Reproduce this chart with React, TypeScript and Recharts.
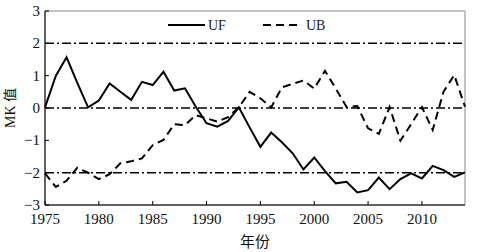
import React from "react";
import {
  LineChart,
  Line,
  XAxis,
  YAxis,
  ReferenceLine,
  ReferenceArea,
} from "recharts";

const years = [
  1975, 1976, 1977, 1978, 1979, 1980, 1981, 1982, 1983, 1984, 1985, 1986, 1987,
  1988, 1989, 1990, 1991, 1992, 1993, 1994, 1995, 1996, 1997, 1998, 1999, 2000,
  2001, 2002, 2003, 2004, 2005, 2006, 2007, 2008, 2009, 2010, 2011, 2012, 2013,
  2014,
];

const uf = [
  0.02, 0.99, 1.57, 0.78, 0.02, 0.23, 0.76, 0.5, 0.25, 0.81, 0.71, 1.12, 0.54,
  0.61, 0.04, -0.47, -0.58, -0.4, 0.02, -0.6, -1.2, -0.76, -1.06, -1.4, -1.9,
  -1.53, -1.95, -2.33, -2.28, -2.61, -2.54, -2.15, -2.51, -2.2, -2.02, -2.18,
  -1.79, -1.92, -2.13, -1.99,
];

const ub = [
  -2.02, -2.44, -2.25, -1.85, -2.0, -2.2, -2.05, -1.71, -1.65, -1.56, -1.15,
  -0.99, -0.5, -0.53, -0.22, -0.32, -0.42, -0.28, 0.02, 0.5, 0.3, 0.02, 0.64,
  0.75, 0.85, 0.6, 1.15, 0.6, 0.03, 0.06, -0.63, -0.8, 0.03, -1.01, -0.5, 0.03,
  -0.68, 0.5, 1.02, 0.04,
];

const xTicks = [1975, 1980, 1985, 1990, 1995, 2000, 2005, 2010];
const yTicks = [-3, -2, -1, 0, 1, 2, 3];
const refLevels = [2, 0, -2];

const data = years.map((y, i) => ({ year: y, UF: uf[i], UB: ub[i] }));

const serif = "Liberation Serif";
const cjk = "Noto Sans CJK SC";

function fmtY(v: number) {
  return v < 0 ? `\u2212${-v}` : `${v}`;
}

function XTick(props: any) {
  const { x, y, payload } = props;
  return (
    <text
      x={x}
      y={y}
      dy={11}
      textAnchor="middle"
      fontFamily={serif}
      fontSize={15}
      fill="#111"
    >
      {payload.value}
    </text>
  );
}

function YTick(props: any) {
  const { x, y, payload } = props;
  return (
    <text
      x={x}
      y={y}
      dy={5}
      textAnchor="end"
      fontFamily={serif}
      fontSize={15}
      fill="#111"
    >
      {fmtY(payload.value)}
    </text>
  );
}

// legend drawn as an overlay so it doesn't push the plot area down
function MkLegend() {
  return (
    <svg
      width={180}
      height={16}
      style={{ position: "absolute", left: 160, top: 17 }}
    >
      <line x1={8} y1={8} x2={45} y2={8} stroke="#000" strokeWidth={2} />
      <text x={48} y={13} fontFamily={serif} fontSize={14} fill="#1a1a2e">
        UF
      </text>
      <line
        x1={103}
        y1={8}
        x2={137}
        y2={8}
        stroke="#000"
        strokeWidth={2}
        strokeDasharray="8 5"
      />
      <text x={146} y={13} fontFamily={serif} fontSize={14} fill="#1a1a2e">
        UB
      </text>
    </svg>
  );
}

export default function App() {
  return (
    <div
      style={{
        position: "absolute",
        left: 0,
        top: 0,
        width: 482,
        height: 252,
        background: "#fff",
      }}
    >
      <LineChart
        width={482}
        height={252}
        data={data}
        margin={{ top: 11, right: 17, bottom: 0, left: 0 }}
      >
        <ReferenceArea
          x1={1975}
          x2={2014}
          y1={-3}
          y2={3}
          fill="none"
          stroke="#888"
          strokeWidth={1}
        />
        {refLevels.map((lv) => (
          <ReferenceLine
            key={lv}
            y={lv}
            stroke="#000"
            strokeWidth={1.5}
            strokeDasharray="9 3 2 3"
          />
        ))}
        <XAxis
          dataKey="year"
          type="number"
          domain={[1975, 2014]}
          ticks={xTicks}
          height={47}
          stroke="#000"
          tickSize={-4}
          tickMargin={12}
          tick={<XTick />}
          label={{
            value: "年份",
            position: "insideBottom",
            offset: 5,
            style: { fontSize: 15, fontFamily: cjk, fill: "#111" },
          }}
        />
        <YAxis
          type="number"
          domain={[-3, 3]}
          ticks={yTicks}
          width={45}
          stroke="#000"
          tickSize={-4}
          tickMargin={9}
          tick={<YTick />}
          label={{
            value: "MK 值",
            angle: -90,
            position: "insideLeft",
            offset: 10,
            style: {
              fontSize: 14,
              fontFamily: `"${serif}", "${cjk}"`,
              fill: "#111",
              textAnchor: "middle",
            },
          }}
        />
        <Line
          type="linear"
          dataKey="UF"
          stroke="#000"
          strokeWidth={2}
          dot={false}
          isAnimationActive={false}
        />
        <Line
          type="linear"
          dataKey="UB"
          stroke="#000"
          strokeWidth={2}
          strokeDasharray="8 5"
          dot={false}
          isAnimationActive={false}
        />
      </LineChart>
      <MkLegend />
    </div>
  );
}
